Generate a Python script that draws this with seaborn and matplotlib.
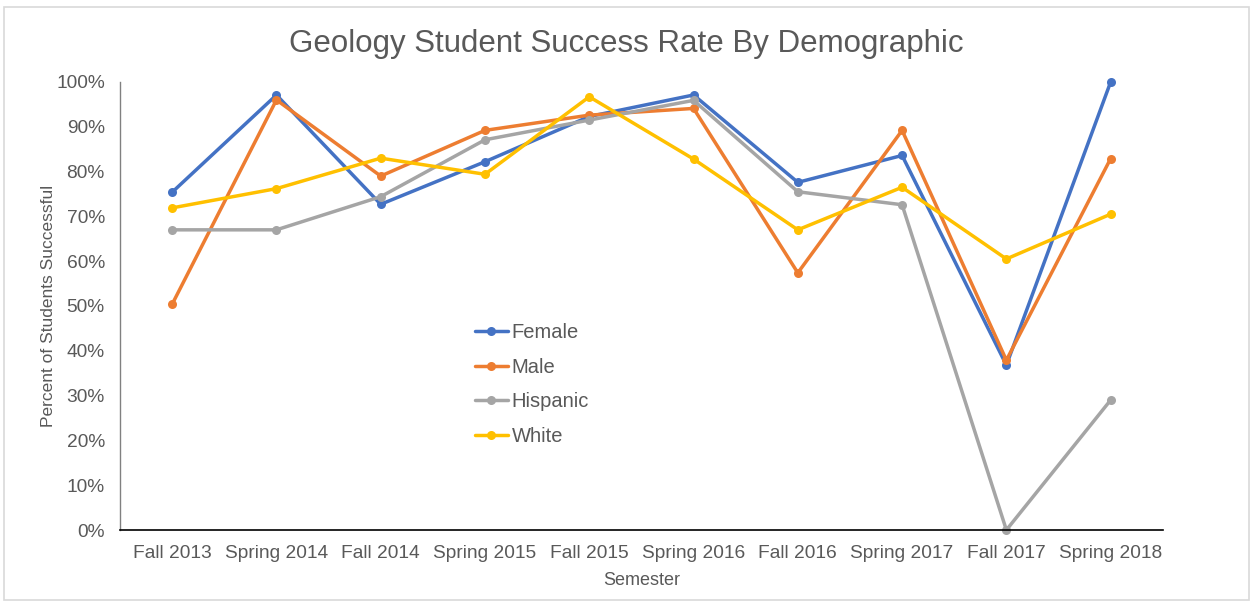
import matplotlib
matplotlib.use("Agg")
import matplotlib.pyplot as plt
import matplotlib.ticker as mtick
from matplotlib.patches import Rectangle
import seaborn as sns
import pandas as pd

semesters = ["Fall 2013", "Spring 2014", "Fall 2014", "Spring 2015", "Fall 2015",
             "Spring 2016", "Fall 2016", "Spring 2017", "Fall 2017", "Spring 2018"]
female = [75.4, 97.1, 72.7, 82.2, 92.3, 97.1, 77.6, 83.6, 36.8, 100.0]
male = [50.4, 96.0, 79.0, 89.2, 92.6, 94.1, 57.4, 89.2, 37.9, 82.9]
hispanic = [67.0, 67.0, 74.4, 87.1, 91.5, 95.9, 75.5, 72.6, 0.0, 29.0]
white = [71.9, 76.2, 83.0, 79.4, 96.7, 82.8, 67.0, 76.5, 60.5, 70.5]

groups = ["Female", "Male", "Hispanic", "White"]
colors = ["#4472C4", "#ED7D31", "#A5A5A5", "#FFC000"]

rows = []
for name, vals in zip(groups, [female, male, hispanic, white]):
    for sem, v in zip(semesters, vals):
        rows.append((sem, name, v))
df = pd.DataFrame(rows, columns=["Semester", "Group", "Rate"])

sns.set_theme(style="white")
plt.rcParams["font.family"] = ["Liberation Sans", "DejaVu Sans"]

fig = plt.figure(figsize=(12.53, 6.02), dpi=100)
ax = fig.add_axes([0.0958, 0.1196, 0.8322, 0.7442])

sns.lineplot(data=df, x="Semester", y="Rate", hue="Group", hue_order=groups,
             palette=colors, marker="o", markersize=6.5, markeredgewidth=0,
             linewidth=2.5, sort=False, ax=ax)
for line in ax.lines:
    line.set_clip_on(False)

ax.set_xlim(-0.5, 9.5)
ax.set_ylim(0, 100)
ax.set_yticks(range(0, 101, 10))
ax.yaxis.set_major_formatter(mtick.FuncFormatter(lambda v, p: f"{int(v)}%"))
ax.tick_params(axis="both", length=0, labelsize=13.8, colors="#595959")
ax.tick_params(axis="x", pad=11)
ax.tick_params(axis="y", pad=11)

for s in ["top", "right"]:
    ax.spines[s].set_visible(False)
ax.spines["left"].set_color("#808080")
ax.spines["left"].set_linewidth(1.0)
ax.spines["bottom"].set_color("#000000")
ax.spines["bottom"].set_linewidth(1.2)

ax.set_xlabel("Semester", fontsize=13, color="#595959", labelpad=7)
ax.set_ylabel("Percent of Students Successful", fontsize=12.5, color="#595959", labelpad=0)
fig.suptitle("Geology Student Success Rate By Demographic", fontsize=22.5,
             color="#595959", y=0.952)

leg = ax.legend(loc="upper left", bbox_to_anchor=(0.333, 0.48), frameon=False,
                fontsize=14.5, labelcolor="#595959", handlelength=1.6,
                handletextpad=0.2, labelspacing=0.78, borderaxespad=0)

fig.patches.append(Rectangle((0.003, 0.003), 0.994, 0.985, transform=fig.transFigure,
                             fill=False, edgecolor="#D9D9D9", linewidth=1.2))

fig.savefig("out.png", dpi=100, facecolor="white")
